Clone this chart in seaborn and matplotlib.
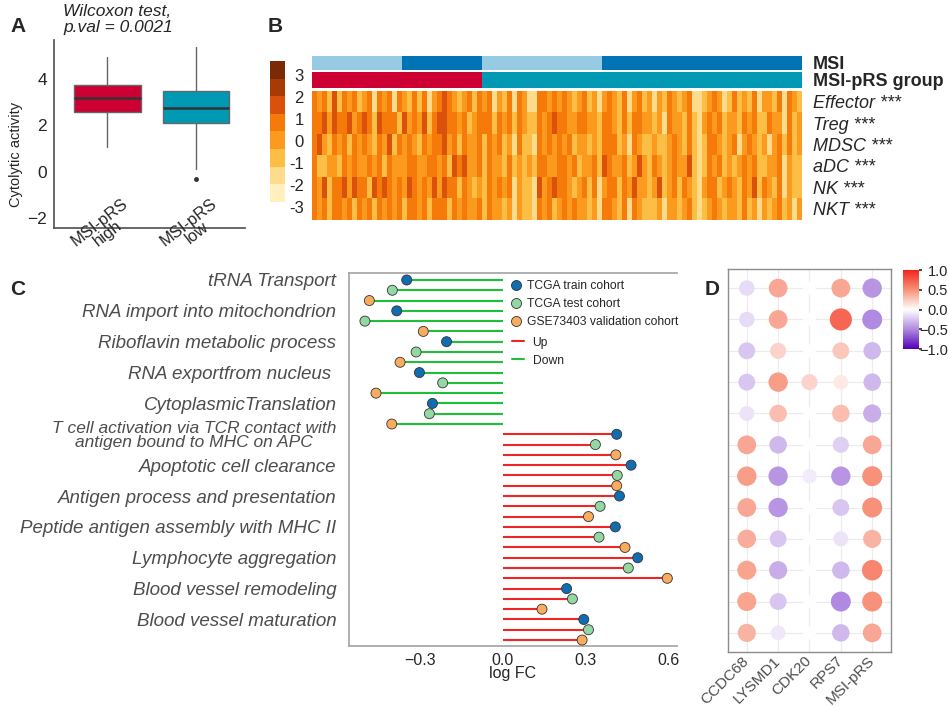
import numpy as np
import pandas as pd
import seaborn as sns
import matplotlib.pyplot as plt
from matplotlib.colors import ListedColormap, LinearSegmentedColormap, Normalize
from matplotlib.cm import ScalarMappable
from matplotlib.lines import Line2D
import matplotlib.transforms as mtrans

sns.set_theme(style='white')
plt.rcParams['font.family'] = ['Liberation Sans', 'DejaVu Sans']
plt.rcParams['axes.spines.right'] = False

# ---------------- panel A : box summaries
box_groups = ['MSI-pRS\nhigh', 'MSI-pRS\nlow']
box_colors = ['#CC0033', '#0099B4']
box_q1 = [2.59, 2.12]
box_med = [3.20, 2.74]
box_q3 = [3.74, 3.50]
box_lo = [1.06, 0.11]
box_hi = [4.96, 5.39]
box_out = [[], [-0.30]]

# ---------------- panel B : immune cell heatmap
cell_types = ['Effector ***', 'Treg ***', 'MDSC ***', 'aDC ***', 'NK ***', 'NKT ***']
# colour band of the key read for each column, 0 = darkest band, 7 = palest
heat_rows = [
    "3435253435" "4363436345" "3536432345" "4353436453" "6346633434" "3454354643" "4536435464" "5345436654" "3465354536" "44536345",
    "3324233243" "2352333524" "3425322334" "3543335343" "5345534323" "3443344533" "4535334454" "6344535643" "4354453435" "53446354",
    "3245343534" "3453425343" "4534332435" "3443534354" "6355634343" "4354454533" "3546345545" "5434535653" "3454364345" "46435354",
    "3554453434" "4343534443" "3443343523" "2443534453" "5454533443" "3435443523" "4435424534" "5434425653" "4354543435" "54436455",
    "3425332423" "3523234342" "3434242335" "3454534343" "6455624323" "3454353643" "3534244542" "5435345643" "3543453425" "34536455",
    "3435334353" "4353434353" "3435333534" "3443534454" "6455634354" "3434454633" "4536345554" "6445435654" "3454453546" "45435464",
]
key_colors = ['#7A2A06', '#A83A05', '#D9510A', '#F57A0A', '#FB9A1C', '#FDBE45', '#FEDC8C', '#FFF0BE']
key_top, key_bottom = 3.72, -2.70
key_ticks = [3, 2, 1, 0, -1, -2, -3]
msi_runs = [('MSI-L', 18), ('MSI-H', 16), ('MSI-L', 24), ('MSI-H', 40)]
group_runs = [('high', 34), ('low', 64)]
msi_colors = {'MSI-L': '#96CBE3', 'MSI-H': '#0073B5'}
group_colors = {'high': '#CC0033', 'low': '#0099B4'}

# ---------------- panel C : lollipop of pathway logFC
terms_down = ['tRNA Transport', 'RNA import into mitochondrion', 'Riboflavin metabolic process',
              'RNA exportfrom nucleus ', 'CytoplasmicTranslation']
terms_up = ['T cell activation via TCR contact with\nantigen bound to MHC on APC',
            'Apoptotic cell clearance', 'Antigen process and presentation',
            'Peptide antigen assembly with MHC II', 'Lymphocyte aggregation',
            'Blood vessel remodeling', 'Blood vessel maturation']
cohorts = ['TCGA train cohort', 'TCGA test cohort', 'GSE73403 validation cohort']
cohort_colors = ['#0F6DB0', '#93D8A2', '#F9AC5E']
logfc_down = [-0.348, -0.400, -0.483, -0.384, -0.499, -0.288, -0.204, -0.314,
              -0.372, -0.302, -0.218, -0.459, -0.255, -0.266, -0.402]
logfc_up = [0.411, 0.334, 0.408, 0.463, 0.413, 0.411, 0.421, 0.351, 0.309,
            0.406, 0.347, 0.441, 0.487, 0.453, 0.594, 0.230, 0.251, 0.141,
            0.292, 0.309, 0.286]

# ---------------- panel D : correlation dots
genes = ['CCDC68', 'LYSMD1', 'CDK20', 'RPS7', 'MSI-pRS']
corr = [
    [-0.15, 0.40, 0.00, 0.40, -0.45],
    [-0.15, 0.40, 0.00, 0.70, -0.50],
    [-0.25, 0.20, 0.00, 0.25, -0.30],
    [-0.25, 0.45, 0.20, 0.10, -0.30],
    [-0.12, 0.30, 0.00, 0.30, -0.35],
    [0.40, -0.30, 0.00, -0.20, 0.40],
    [0.45, -0.45, -0.08, -0.45, 0.50],
    [0.40, -0.45, 0.00, -0.25, 0.50],
    [0.38, -0.25, 0.00, -0.12, 0.35],
    [0.42, -0.35, 0.00, -0.30, 0.55],
    [0.42, -0.25, 0.00, -0.50, 0.50],
    [0.35, -0.10, 0.00, -0.30, 0.40],
]

fig = plt.figure(figsize=(9.48, 7.07), dpi=100)
W, H = 948, 707


def px_axes(x0, y0, x1, y1):
    return fig.add_axes([x0 / W, 1 - y1 / H, (x1 - x0) / W, (y1 - y0) / H])


# ===== A
axa = px_axes(54, 40, 245, 228)
stats = []
for i in range(2):
    stats.append(dict(q1=box_q1[i], med=box_med[i], q3=box_q3[i], whislo=box_lo[i],
                      whishi=box_hi[i], fliers=box_out[i]))
bp = axa.bxp(stats, positions=[0, 1], widths=0.75, patch_artist=True, showcaps=False,
             boxprops=dict(edgecolor='#666666', linewidth=1),
             medianprops=dict(color='#333333', linewidth=1.8),
             whiskerprops=dict(color='#666666', linewidth=1),
             flierprops=dict(marker='o', markersize=2.5, markerfacecolor='#333333',
                             markeredgecolor='#333333'))
for patch, c in zip(bp['boxes'], box_colors):
    patch.set_facecolor(c)
axa.set_xlim(-0.6, 1.55)
axa.set_ylim(-2.42, 5.68)
axa.set_yticks([-2, 0, 2, 4])
axa.set_xticks([0, 1])
axa.set_xticklabels([])
axa.tick_params(axis='y', labelsize=12.5, length=3, color='#555555', pad=2)
axa.tick_params(axis='x', length=0)
axa.spines['top'].set_visible(False)
for s in ['left', 'bottom']:
    axa.spines[s].set_color('#555555')
axa.set_ylabel('Cytolytic activity', fontsize=10.5)
axa.yaxis.set_label_coords(-0.16, 0.39)
tr = mtrans.blended_transform_factory(axa.transData, axa.transAxes)
for i, g in enumerate(box_groups):
    axa.text(i - 0.04, 0.0, g, transform=tr, rotation=38, ha='center', va='center',
             multialignment='center', fontsize=12, linespacing=0.85, clip_on=False)
fig.text(63 / W, 1 - 4 / H, 'Wilcoxon test,\np.val = 0.0021', style='italic',
         fontsize=12.5, va='top', ha='left', linespacing=1.05)

# ===== B
key_cmap = ListedColormap(key_colors[::-1])
step = (key_top - key_bottom) / len(key_colors)
heat = np.array([[key_top - (int(ch) + 0.5) * step for ch in row] for row in heat_rows])
heat_df = pd.DataFrame(heat, index=cell_types)

axh = px_axes(312, 91, 802, 219.5)
sns.heatmap(heat_df, ax=axh, cmap=key_cmap, vmin=key_bottom, vmax=key_top, cbar=False,
            xticklabels=False, yticklabels=True)
axh.yaxis.tick_right()
axh.set_yticklabels(cell_types, rotation=0, fontsize=13, style='italic')
axh.tick_params(axis='y', length=0, pad=8)
axh.set_ylabel('')

msi_cols = []
for lab, n in msi_runs:
    msi_cols += [lab] * n
grp_cols = []
for lab, n in group_runs:
    grp_cols += [lab] * n
msi_names = list(msi_colors)
grp_names = list(group_colors)

axm = px_axes(312, 55.7, 802, 70)
sns.heatmap(np.array([[msi_names.index(v) for v in msi_cols]]), ax=axm,
            cmap=ListedColormap([msi_colors[k] for k in msi_names]), vmin=-0.5, vmax=1.5,
            cbar=False, xticklabels=False, yticklabels=False)
axg = px_axes(312, 72.3, 802, 87.7)
sns.heatmap(np.array([[grp_names.index(v) for v in grp_cols]]), ax=axg,
            cmap=ListedColormap([group_colors[k] for k in grp_names]), vmin=-0.5, vmax=1.5,
            cbar=False, xticklabels=False, yticklabels=False)
for a, lab in [(axm, 'MSI'), (axg, 'MSI-pRS group')]:
    a.yaxis.tick_right()
    a.set_yticks([0.5])
    a.set_yticklabels([lab], fontsize=13, fontweight='bold', rotation=0)
    a.tick_params(axis='y', length=0, pad=8)

axk = px_axes(270, 61, 285, 201.7)
cbk = fig.colorbar(ScalarMappable(norm=Normalize(key_bottom, key_top), cmap=key_cmap),
                   cax=axk, ticks=[])
cbk.outline.set_visible(False)
for t in key_ticks:
    axk.text(2.25, t, str(t), ha='right', va='center', fontsize=12, clip_on=False)

# ===== C
logfc = logfc_down + logfc_up
dfc = pd.DataFrame({'logfc': logfc,
                    'pos': np.arange(len(logfc)),
                    'cohort': [cohorts[i % 3] for i in range(len(logfc))]})
terms = terms_down + terms_up

axc = px_axes(349, 273.3, 677, 645.7)
stem_cols = ['#F02626' if v > 0 else '#1FBF3A' for v in logfc]
axc.hlines(dfc['pos'], 0, dfc['logfc'], colors=stem_cols, lw=1.5, zorder=1)
sns.scatterplot(data=dfc, x='logfc', y='pos', hue='cohort', hue_order=cohorts,
                palette=cohort_colors, s=52, edgecolor='#333333', linewidth=0.6,
                legend=False, zorder=3, ax=axc)
axc.set_xlim(-0.5566, 0.629)
axc.set_ylim(35.55, -0.65)
axc.set_xticks([-0.3, 0.0, 0.3, 0.6])
axc.set_xticklabels(['\u22120.3', '0.0', '0.3', '0.6'])
axc.set_yticks(np.arange(len(terms)) * 3)
axc.set_yticklabels(terms)
for t in axc.get_yticklabels():
    t.set_fontsize(13.5)
    t.set_style('italic')
    t.set_color('#4D4D4D')
    if '\n' in t.get_text():
        t.set_fontsize(12.5)
        t.set_multialignment('center')
        t.set_linespacing(0.9)
axc.tick_params(axis='x', labelsize=11.5, length=3, color='#A6A6A6', pad=2)
axc.tick_params(axis='y', length=3, color='#A6A6A6', pad=6)
axc.set_xlabel('log FC', fontsize=11.5, labelpad=-1)
axc.set_ylabel('')

h1 = [Line2D([], [], ls='', marker='o', markersize=7.2, markerfacecolor=c,
             markeredgecolor='#333333', markeredgewidth=0.6) for c in cohort_colors]
leg1 = axc.legend(h1, cohorts, loc='upper left', bbox_to_anchor=(0.49, 0.982),
                  frameon=False, fontsize=8.7, handlelength=1.0, handletextpad=0.4,
                  labelspacing=0.5, borderpad=0, borderaxespad=0)
axc.add_artist(leg1)
h2 = [Line2D([], [], color='#F02626', lw=1.5), Line2D([], [], color='#1FBF3A', lw=1.5)]
axc.legend(h2, ['Up', 'Down'], loc='upper left', bbox_to_anchor=(0.497, 0.83),
           frameon=False, fontsize=8.7, handlelength=1.0, handletextpad=0.7,
           labelspacing=0.5, borderpad=0, borderaxespad=0)
for s in ['top', 'left', 'bottom']:
    axc.spines[s].set_color('#A6A6A6')
axc.spines['right'].set_visible(False)

# ===== D
dcmap = LinearSegmentedColormap.from_list(
    'corr', [(0, '#5200B8'), (0.25, '#B08AE0'), (0.5, '#FFFFFF'), (0.75, '#F7927A'), (1, '#F2251A')])
rows = []
for ri, vals in enumerate(corr):
    for gi, v in enumerate(vals):
        rows.append({'row': ri, 'gene': gi, 'r': v, 'absr': abs(v)})
dfd = pd.DataFrame(rows)

axd = px_axes(728, 269.3, 891, 651.7)
axd.set_axisbelow(True)
axd.grid(True, color='#EBEBEB', lw=0.8)
sns.scatterplot(data=dfd, x='gene', y='row', hue='r', hue_norm=(-1, 1), palette=dcmap,
                size='absr', sizes=(88, 324), size_norm=(0, 1), edgecolor='none',
                legend=False, ax=axd, zorder=3)
axd.set_xlim(-0.6, len(genes) - 0.4)
axd.set_ylim(len(corr) - 0.4, -0.6)
axd.set_xticks(range(len(genes)))
axd.set_xticklabels(genes, rotation=45, ha='right', va='center', rotation_mode='anchor',
                    fontsize=11, color='#4D4D4D')
shift = mtrans.ScaledTranslation(12 / 100, 2 / 100, fig.dpi_scale_trans)
for t in axd.get_xticklabels():
    t.set_transform(t.get_transform() + shift)
axd.set_yticks(range(len(corr)))
axd.set_yticklabels([])
axd.set_xlabel('')
axd.set_ylabel('')
axd.tick_params(length=3, color='#8C8C8C', pad=2)
axd.spines['right'].set_visible(True)
for s in axd.spines.values():
    s.set_color('#8C8C8C')
    s.set_linewidth(1)

axdc = px_axes(903, 270, 919, 349)
cbd = fig.colorbar(ScalarMappable(norm=Normalize(-1, 1), cmap=dcmap), cax=axdc,
                   ticks=[-1, -0.5, 0, 0.5, 1])
cbd.outline.set_visible(False)
cbd.ax.set_yticklabels(['\u22121.0', '\u22120.5', '0.0', '0.5', '1.0'])
cbd.ax.tick_params(labelsize=10.5, length=2, color='#333333', pad=19)
for t in cbd.ax.get_yticklabels():
    t.set_horizontalalignment('right')

# panel letters
for lab, x, y in [('A', 10, 17), ('B', 268, 17), ('C', 10, 280), ('D', 705, 280)]:
    fig.text(x / W, 1 - y / H, lab, fontsize=15, fontweight='bold', va='top', ha='left')

fig.savefig('out.png', dpi=100)
